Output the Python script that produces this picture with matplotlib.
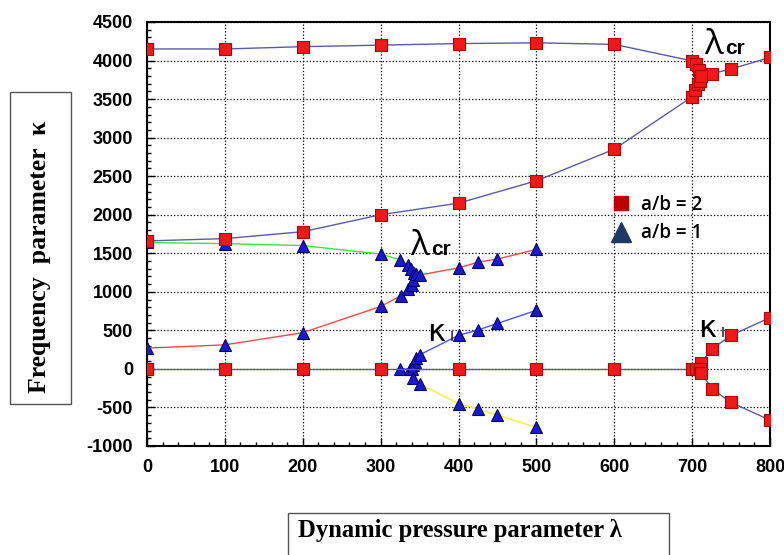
import matplotlib
matplotlib.use("Agg")
import matplotlib.pyplot as plt
from matplotlib.patches import Rectangle
from matplotlib.lines import Line2D
from matplotlib.ticker import MultipleLocator

# ---------------- data ----------------
# a/b = 2 (red squares)
ab2_b1_x = [0, 100, 200, 300, 400, 500, 600, 700, 705, 709, 712, 725, 750, 800]
ab2_b1_y = [4150, 4150, 4180, 4200, 4220, 4230, 4210, 3995, 3960, 3875, 3800, 3830, 3890, 4040]
ab2_b2_x = [0, 100, 200, 300, 400, 500, 600, 700, 704, 708, 710, 712]
ab2_b2_y = [1660, 1690, 1780, 2000, 2150, 2440, 2850, 3530, 3620, 3690, 3740, 3800]
ab2_re_x = [0, 100, 200, 300, 400, 500, 600, 700, 705, 710]
ab2_re_y = [0, 0, 0, 0, 0, 0, 0, 0, 0, 0]
ab2_kiup_x = [710, 712, 725, 750, 800]
ab2_kiup_y = [0, 80, 255, 435, 665]
ab2_kilo_x = [710, 712, 725, 750, 800]
ab2_kilo_y = [0, -50, -255, -435, -665]

# a/b = 1 (blue triangles)
ab1_g_x = [0, 100, 200, 300, 325, 335, 339, 343]
ab1_g_y = [1640, 1625, 1600, 1490, 1415, 1350, 1295, 1245]
ab1_r_x = [0, 100, 200, 300, 326, 335, 340, 342, 345, 351, 400, 425, 450, 500]
ab1_r_y = [270, 312, 470, 810, 950, 1040, 1090, 1156, 1230, 1220, 1310, 1385, 1425, 1550]
ab1_kiup_x = [325, 338, 342, 344, 346, 350, 400, 425, 450, 500]
ab1_kiup_y = [0, 0, 52, 95, 139, 182, 435, 505, 590, 760]
ab1_kilo_x = [340, 342, 350, 400, 425, 450, 500]
ab1_kilo_y = [0, -121, -195, -450, -520, -600, -760]

x_ticks = [0, 100, 200, 300, 400, 500, 600, 700, 800]
y_ticks = [-1000, -500, 0, 500, 1000, 1500, 2000, 2500, 3000, 3500, 4000, 4500]
legend_labels = ["a/b = 2", "a/b = 1"]

# ---------------- figure ----------------
fig = plt.figure(figsize=(7.84, 5.55), dpi=100)
ax = fig.add_axes([147/784, 1-446/555, (770-147)/784, (446-22)/555])

line2 = "#5a5aaa"
sq = dict(marker="s", markersize=8, markerfacecolor="#f01818",
          markeredgecolor="#b00000", markeredgewidth=0.8, zorder=5)
tri = dict(marker="^", markersize=8.5, markerfacecolor="#1a1acc",
           markeredgecolor="#00006a", markeredgewidth=0.8, zorder=4)

# a/b = 1 lines + triangles
ax.plot(ab1_g_x, ab1_g_y, color="#44e044", lw=1.0, **tri)
ax.plot(ab1_r_x, ab1_r_y, color="#ff4a4a", lw=1.0, **tri)
ax.plot(ab1_kiup_x, ab1_kiup_y, color="#4a55ff", lw=1.0, **tri)
ax.plot(ab1_kilo_x, ab1_kilo_y, color="#f5f030", lw=1.0, **tri)

# a/b = 2 lines + squares
for xs, ys in [(ab2_b1_x, ab2_b1_y), (ab2_b2_x, ab2_b2_y), (ab2_re_x, ab2_re_y),
               (ab2_kiup_x, ab2_kiup_y), (ab2_kilo_x, ab2_kilo_y)]:
    ax.plot(xs, ys, color=line2, lw=1.0, **sq)

ax.set_xlim(0, 800)
ax.set_ylim(-1000, 4500)
ax.set_xticks(x_ticks)
ax.set_yticks(y_ticks)
ax.set_xticklabels([str(v) for v in x_ticks])
ax.set_yticklabels([str(v) for v in y_ticks])
ax.xaxis.set_minor_locator(MultipleLocator(20))
ax.yaxis.set_minor_locator(MultipleLocator(100))
ax.tick_params(which="both", direction="in", top=False, right=False, width=1.0, color="black")
ax.tick_params(which="major", length=6)
ax.tick_params(which="minor", length=3)
ax.tick_params(axis="y", pad=10)
ax.tick_params(axis="x", pad=9)
for lab in ax.get_xticklabels() + ax.get_yticklabels():
    lab.set_fontfamily("Liberation Sans")
    lab.set_fontweight("bold")
    lab.set_fontsize(13)
ax.grid(True, which="major", color="black", linestyle=":", linewidth=0.9)
for s in ax.spines.values():
    s.set_linewidth(1.5)
    s.set_color("black")

# annotations
ax.text(338, 1480, "λ", fontsize=25, family="Open Sans", ha="left", va="baseline", zorder=6)
ax.text(365, 1480, "cr", fontsize=15, family="Liberation Sans", weight="bold", ha="left", va="baseline", zorder=6)
ax.text(716, 4080, "λ", fontsize=25, family="Open Sans", ha="left", va="baseline", zorder=6)
ax.text(743, 4080, "cr", fontsize=15, family="Liberation Sans", weight="bold", ha="left", va="baseline", zorder=6)
ax.text(360, 364, "κ", fontsize=22, family="DejaVu Sans", ha="left", va="baseline", zorder=6)
ax.text(389, 364, "I", fontsize=10, family="DejaVu Sans", ha="left", va="baseline", zorder=6)
ax.text(708, 416, "κ", fontsize=22, family="DejaVu Sans", ha="left", va="baseline", zorder=6)
ax.text(737, 416, "I", fontsize=10, family="DejaVu Sans", ha="left", va="baseline", zorder=6)

# legend
handles = [Line2D([], [], ls="none", marker="s", markersize=10, markerfacecolor="#c00000", markeredgecolor="#c00000"),
           Line2D([], [], ls="none", marker="^", markersize=15, markerfacecolor="#1f3864", markeredgecolor="#1f3864")]
leg = ax.legend(handles, legend_labels, loc="center left", bbox_to_anchor=(0.725, 0.535),
                frameon=False, handletextpad=0.25, labelspacing=0.45, borderaxespad=0,
                handlelength=1.6,
                prop={"family": "Open Sans", "weight": "semibold", "size": 13.5})

# axis label boxes
fig.patches.append(Rectangle((10/784, 1-404/555), 61/784, 312/555, transform=fig.transFigure,
                             fill=False, edgecolor="#555555", lw=1.0))
fig.text(40/784, 1-257/555, "Frequency  parameter  κ", rotation=90, ha="center", va="center",
         family="Liberation Serif", weight="bold", fontsize=18.5)
fig.patches.append(Rectangle((288/784, -0.02), (669-288)/784, 1-513/555+0.02, transform=fig.transFigure,
                             fill=False, edgecolor="#555555", lw=1.0))
fig.text(298/784, 1-531/555, "Dynamic pressure parameter λ", ha="left", va="center",
         family="Liberation Serif", weight="bold", fontsize=17.7)

fig.savefig("out.png", dpi=100)
